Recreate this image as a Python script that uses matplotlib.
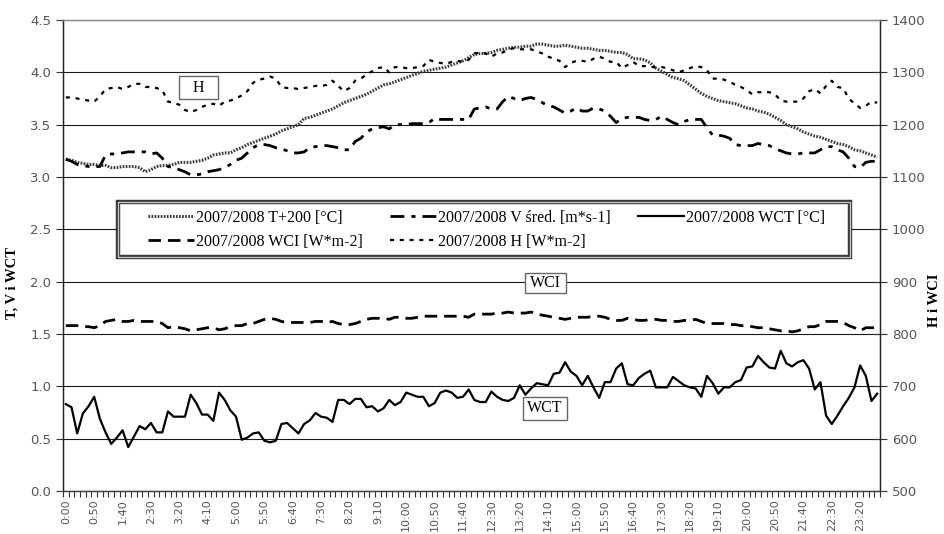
import numpy as np
import matplotlib
matplotlib.use("Agg")
import matplotlib.pyplot as plt
from matplotlib.patches import Rectangle

# ---------------- data (10-minute steps, 0:00 .. 23:50) ----------------
T_plus200 = [3.17,3.16,3.14,3.13,3.12,3.12,3.11,3.11,3.09,3.09,3.10,3.10,3.10,3.09,3.05,3.07,3.10,3.11,3.11,3.12,
             3.14,3.14,3.14,3.15,3.16,3.18,3.21,3.22,3.23,3.23,3.26,3.28,3.31,3.33,3.35,3.37,3.39,3.41,3.44,3.46,
             3.48,3.50,3.56,3.57,3.59,3.61,
             3.63,3.65,3.68,3.71,3.73,3.75,3.77,3.79,3.82,3.85,3.88,3.89,3.91,3.93,3.95,3.97,3.99,4.01,4.02,4.03,
             4.04,4.05,4.07,4.09,4.11,4.14,4.17,4.18,4.18,4.19,4.21,4.22,4.23,4.24,4.24,4.25,4.25,4.27,4.27,4.26,
             4.25,4.25,4.26,4.25,4.24,4.23,4.23,4.22,4.21,
             4.21,4.20,4.19,4.19,4.17,4.13,4.13,4.12,4.09,4.04,4.01,3.98,3.95,3.94,3.92,3.88,3.84,3.80,3.77,3.75,
             3.73,3.72,3.71,3.70,3.68,3.66,3.65,3.63,3.62,3.60,3.57,3.54,3.50,3.48,3.46,3.43,3.41,3.39,3.38,3.36,
             3.34,3.32,3.31,3.29,3.26,3.25,3.23,3.21,3.19]

V_sred = [3.17,3.15,3.12,3.11,3.10,3.10,3.10,3.21,3.22,3.22,3.23,3.24,3.24,3.24,3.24,3.22,3.23,3.18,3.10,3.09,
          3.07,3.05,3.02,3.02,3.03,3.05,3.06,3.07,3.09,3.12,3.16,3.18,3.23,3.28,3.31,3.31,3.30,3.28,3.27,3.25,
          3.23,3.23,3.24,3.28,3.29,3.30,
          3.30,3.29,3.28,3.26,3.26,3.34,3.37,3.43,3.46,3.47,3.48,3.46,3.50,3.50,3.50,3.51,3.51,3.51,3.52,3.56,
          3.55,3.55,3.55,3.55,3.55,3.55,3.65,3.66,3.67,3.65,3.65,3.72,3.77,3.75,3.73,3.75,3.76,3.74,3.71,3.68,
          3.67,3.64,3.61,3.63,3.66,3.63,3.63,3.66,3.65,
          3.63,3.58,3.52,3.56,3.57,3.57,3.57,3.55,3.54,3.55,3.58,3.55,3.52,3.50,3.53,3.55,3.55,3.55,3.47,3.40,
          3.40,3.39,3.37,3.31,3.30,3.30,3.30,3.32,3.31,3.30,3.27,3.25,3.23,3.22,3.22,3.23,3.23,3.23,3.26,3.29,
          3.29,3.26,3.24,3.18,3.10,3.09,3.14,3.15,3.15]

WCT = [0.83,0.80,0.55,0.74,0.81,0.90,0.69,0.56,0.45,0.51,0.58,0.42,0.52,0.62,0.59,0.65,0.56,0.56,0.76,0.71,
       0.71,0.71,0.92,0.84,0.73,0.73,0.67,0.94,0.87,0.77,0.71,0.49,0.51,0.55,0.56,0.48,0.465,0.48,0.64,0.65,
       0.60,0.55,0.64,0.675,0.745,0.71,
       0.70,0.66,0.87,0.87,0.83,0.88,0.88,0.80,0.81,0.76,0.79,0.87,0.82,0.85,0.94,0.92,0.90,0.90,0.81,0.84,
       0.94,0.96,0.94,0.89,0.90,0.97,0.87,0.85,0.85,0.95,0.90,0.87,0.86,0.89,1.01,0.92,0.98,1.03,1.02,1.01,
       1.12,1.13,1.23,1.14,1.10,1.01,1.10,0.99,0.89,
       1.04,1.04,1.17,1.22,1.02,1.01,1.08,1.12,1.15,0.99,0.99,0.99,1.09,1.05,1.01,0.99,0.98,0.90,1.10,1.03,
       0.93,0.99,0.99,1.04,1.06,1.18,1.19,1.29,1.23,1.18,1.17,1.34,1.22,1.19,1.23,1.25,1.17,0.97,1.04,0.72,
       0.64,0.72,0.81,0.89,0.99,1.20,1.10,0.86,0.93]

WCI = [816,816,816,814,814,812,816,824,826,828,824,824,826,824,824,824,824,820,812,814,
       812,810,806,808,810,812,812,808,810,814,816,816,820,820,824,828,830,828,824,822,
       822,822,822,822,824,824,
       822,824,820,818,818,820,824,828,830,830,830,828,832,832,830,830,832,834,834,834,
       834,834,834,834,834,832,838,838,838,838,840,840,842,840,840,840,842,838,836,834,
       832,830,828,830,832,832,832,834,834,
       832,828,826,826,830,828,826,826,828,828,826,826,824,824,826,826,828,824,820,820,
       820,820,818,818,816,816,814,812,812,810,808,806,806,804,806,810,814,814,818,824,
       824,824,822,816,812,806,812,812,812]

H = [1252,1252,1250,1248,1246,1244,1254,1268,1270,1272,1268,1272,1278,1278,1272,1272,1270,1266,1244,1242,
     1238,1228,1224,1228,1234,1238,1240,1236,1244,1246,1250,1256,1264,1280,1286,1288,1292,1288,1272,1270,
     1270,1268,1270,1272,1274,1274,
     1276,1284,1274,1264,1270,1284,1288,1296,1302,1308,1310,1300,1310,1310,1308,1308,1310,1312,1324,1320,
     1318,1316,1320,1322,1320,1324,1336,1338,1336,1330,1336,1338,1344,1346,1344,1344,1344,1340,1336,1330,
     1326,1322,1310,1318,1322,1322,1320,1326,1330,
     1326,1320,1320,1308,1314,1320,1312,1312,1310,1310,1310,1308,1304,1300,1304,1308,1312,1310,1304,1288,
     1288,1286,1282,1276,1272,1266,1258,1262,1262,1262,1258,1246,1244,1244,1244,1250,1264,1268,1260,1274,
     1284,1272,1270,1250,1240,1232,1236,1244,1242]

time_labels = ['0:00','0:50','1:40','2:30','3:20','4:10','5:00','5:50','6:40','7:30','8:20','9:10',
               '10:00','10:50','11:40','12:30','13:20','14:10','15:00','15:50','16:40','17:30','18:20',
               '19:10','20:00','20:50','21:40','22:30','23:20']
label_step = 5

series_names = ['2007/2008 T+200 [\u00b0C]', '2007/2008 V \u015bred. [m*s-1]', '2007/2008 WCT [\u00b0C]',
                '2007/2008 WCI [W*m-2]', '2007/2008 H [W*m-2]']

# ---------------- figure ----------------
W, Hh = 945, 534
serif = ['Liberation Serif', 'DejaVu Serif']
plt.rcParams['font.family'] = ['DejaVu Sans']

fig = plt.figure(figsize=(W / 100, Hh / 100), dpi=100)
ax = fig.add_axes([63/W, 1-491/Hh, (880-63)/W, (491-20)/Hh])
ax2 = ax.twinx()

x = np.arange(len(T_plus200))

lT, = ax.plot(x, T_plus200, color='#3a3a3a', lw=2.2, ls=(0, (0.55, 0.45)), zorder=3)
lV, = ax.plot(x, V_sred, color='black', lw=2.0, ls=(0, (5, 2.5, 1.5, 2.5)), zorder=3)
lWCT, = ax.plot(x, WCT, color='black', lw=1.6, ls='-', zorder=3)
lWCI, = ax2.plot(x, WCI, color='black', lw=2.0, ls=(0, (4.5, 2.5)), zorder=3)
lH, = ax2.plot(x, H, color='black', lw=1.6, ls=(0, (1.8, 2.6)), zorder=3)

ax.set_xlim(-0.5, len(x) - 0.5)
ax.set_ylim(0, 4.5)
ax2.set_ylim(500, 1400)
ax.set_yticks(np.arange(0, 4.51, 0.5))
ax.set_yticklabels([f'{v:.1f}' for v in np.arange(0, 4.51, 0.5)])
ax2.set_yticks(np.arange(500, 1401, 100))

tick_pos = np.arange(0, label_step * len(time_labels), label_step)
ax.set_xticks(tick_pos)
ax.set_xticklabels(time_labels, rotation=90, fontsize=8, color='#555555')
ax.set_xticks(np.arange(-0.5, len(x), 1), minor=True)
ax.tick_params(axis='x', which='major', length=0, pad=6)
ax.tick_params(axis='x', which='minor', length=4, width=0.8, direction='out', color='#333333')
ax.tick_params(axis='y', which='major', length=5, width=0.8, direction='out',
               labelsize=9.5, labelcolor='#555555', color='#333333')
ax2.tick_params(axis='y', which='major', length=10, width=0.8, direction='inout',
                labelsize=9.5, labelcolor='#555555', color='#333333')

ax.yaxis.grid(True, color='#1a1a1a', lw=0.8)
ax.set_axisbelow(True)
ax.get_ygridlines()[-1].set_color('#8a8a8a')

for a in (ax, ax2):
    a.spines['top'].set_color('#8a8a8a')
    a.spines['left'].set_color('#222222')
    a.spines['right'].set_color('#222222')
    a.spines['bottom'].set_color('#444444')
    for s in a.spines.values():
        s.set_linewidth(0.9)

fig.text(12/W, 1-283/Hh, 'T, V i WCT', rotation=90, ha='center', va='center',
         family=serif, fontweight='bold', fontsize=10.5)
fig.text(935/W, 1-300/Hh, 'H i WCI', rotation=90, ha='center', va='center',
         family=serif, fontweight='bold', fontsize=10.5)

# annotation boxes (figure pixel boxes: left, top, right, bottom)
def label_box(text, l, t, r, b):
    fig.add_artist(Rectangle((l/W, 1-b/Hh), (r-l)/W, (b-t)/Hh, transform=fig.transFigure,
                             fc='white', ec='#666666', lw=1.0, zorder=6))
    fig.text((l+r)/2/W, 1-(t+b)/2/Hh, text, ha='center', va='center', family=serif,
             fontsize=11.5, zorder=7)

label_box('H', 179, 76, 218, 99)
label_box('WCI', 525, 273, 566, 293)
label_box('WCT', 523, 397, 567, 420)

# legend: double-line frame + frameless legend content
fig.add_artist(Rectangle((118/W, 1-257/Hh), (850-118)/W, (257-202)/Hh, transform=fig.transFigure,
                         fc='white', ec='#3a3a3a', lw=3.2, zorder=8))
fig.add_artist(Rectangle((118/W, 1-257/Hh), (850-118)/W, (257-202)/Hh, transform=fig.transFigure,
                         fc='none', ec='#c8c8c8', lw=0.9, zorder=8))

handles = [lT, lWCI, lV, lH, lWCT]
labels = [series_names[0], series_names[3], series_names[1], series_names[4], series_names[2]]
leg = fig.legend(handles, labels, ncol=3, loc='upper left',
                 bbox_to_anchor=(148/W, 1-210/Hh),
                 borderaxespad=0, borderpad=0, prop={'family': serif, 'size': 11.5}, frameon=False,
                 handlelength=2.9, handletextpad=0.1, labelspacing=0.49, columnspacing=1.7)
leg.set_zorder(9)

fig.savefig('out.png', dpi=100, facecolor='white')
